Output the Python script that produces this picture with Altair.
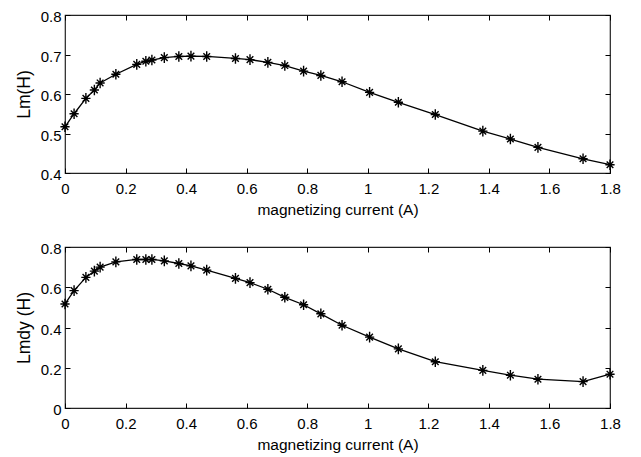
import altair as alt
import pandas as pd

current = [0, 0.030, 0.069, 0.097, 0.116, 0.168, 0.237, 0.267, 0.287, 0.328, 0.376, 0.416,
           0.468, 0.563, 0.611, 0.670, 0.726, 0.788, 0.845, 0.915, 1.006, 1.101, 1.223,
           1.380, 1.471, 1.562, 1.711, 1.800]
lm = [0.517, 0.550, 0.589, 0.610, 0.628, 0.650, 0.675, 0.683, 0.686, 0.692, 0.695, 0.696,
      0.695, 0.690, 0.687, 0.680, 0.672, 0.658, 0.647, 0.631, 0.604, 0.579, 0.548,
      0.506, 0.486, 0.465, 0.436, 0.421]
lmdy = [0.517, 0.583, 0.649, 0.680, 0.700, 0.726, 0.738, 0.738, 0.738, 0.731, 0.718, 0.706,
        0.685, 0.644, 0.623, 0.590, 0.550, 0.513, 0.468, 0.411, 0.352, 0.294, 0.230,
        0.187, 0.163, 0.143, 0.131, 0.168]

x_ticks = [0, 0.2, 0.4, 0.6, 0.8, 1.0, 1.2, 1.4, 1.6, 1.8]
lm_ticks = [0.4, 0.5, 0.6, 0.7, 0.8]
lmdy_ticks = [0, 0.2, 0.4, 0.6, 0.8]

df = pd.DataFrame({"current": current, "lm": lm, "lmdy": lmdy})

ASTER = "M-1,0H1M0,-1.15V1.15M-0.72,-0.72L0.72,0.72M-0.72,0.72L0.72,-0.72"
FONT = "Liberation Sans"
W = 545


def panel(field, ytitle, domain, yticks, h):
    xs = alt.Scale(domain=[0, 1.8], nice=False, zero=False)
    ys = alt.Scale(domain=domain, nice=False, zero=False)
    ax_common = dict(tickSize=5, offset=-5, domain=False, grid=False, tickColor="black",
                     tickWidth=1, labelFlush=False)
    line = alt.Chart(df).mark_line(color="black", strokeWidth=1.3).encode(
        x=alt.X("current:Q", scale=xs,
                axis=alt.Axis(title="magnetizing current (A)", values=x_ticks, format="~g",
                              orient="bottom", labelPadding=8, titlePadding=6,
                              titleFontSize=15.5, **ax_common)),
        y=alt.Y(f"{field}:Q", scale=ys,
                axis=alt.Axis(title=ytitle, values=yticks, format="~g", orient="left",
                              labelPadding=4, titlePadding=7, labelOffset=1.5,
                              titleFontSize=17.5, **ax_common)),
    )
    pts = alt.Chart(df).mark_point(shape=ASTER, size=85, color="black", filled=False,
                                   strokeWidth=1.4, opacity=1).encode(
        x=alt.X("current:Q", scale=xs, axis=None),
        y=alt.Y(f"{field}:Q", scale=ys, axis=None),
    )
    ghost = alt.Chart(df).mark_point(opacity=0).encode(
        x=alt.X("current:Q", scale=xs,
                axis=alt.Axis(title=None, values=x_ticks, labels=False, orient="top",
                              **ax_common)),
        y=alt.Y(f"{field}:Q", scale=ys,
                axis=alt.Axis(title=None, values=yticks, labels=False, orient="right",
                              **ax_common)),
    )
    return alt.layer(line, pts, ghost).resolve_axis(x="independent", y="independent").properties(
        width=W, height=h)


top = panel("lm", "Lm(H)", [0.4, 0.8], lm_ticks, 158)
bottom = panel("lmdy", "Lmdy (H)", [0, 0.8], lmdy_ticks, 161)

chart = alt.vconcat(top, bottom, spacing=21).properties(
    padding={"left": 6, "top": 0, "right": 5, "bottom": 2}
).configure(background="white").configure_view(
    stroke="#222222", strokeWidth=1.2
).configure_axis(
    labelFont=FONT, titleFont=FONT, labelFontSize=15, titleFontSize=15,
    labelColor="black", titleColor="black", titleFontWeight="normal"
)

chart.save("out.html", embed_options={"renderer": "svg", "actions": False})
